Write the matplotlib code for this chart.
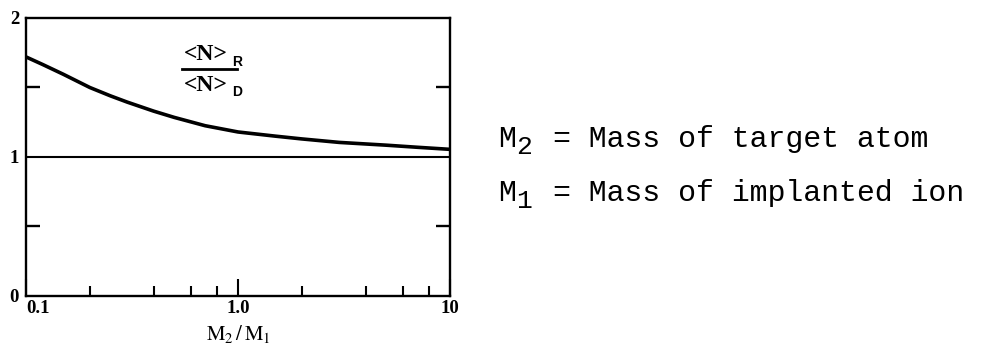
import numpy as np
import matplotlib
matplotlib.use("Agg")
import matplotlib.pyplot as plt

# mass ratio M2/M1 and range ratio <N>_R / <N>_D
mass_ratio = [0.1, 0.12, 0.15, 0.2, 0.25, 0.3, 0.4, 0.5, 0.7, 1.0,
              1.5, 2.0, 3.0, 5.0, 7.0, 10.0]
range_ratio = [1.72, 1.665, 1.595, 1.50, 1.44, 1.395, 1.33, 1.285, 1.225, 1.18,
               1.15, 1.13, 1.105, 1.085, 1.07, 1.055]
reference_level = 1.0

xtick_vals = [0.1, 1.0, 10]
xtick_labels = ["0.1", "1.0", "10"]
xminor_vals = [0.2, 0.4, 0.6, 0.8, 2, 4, 6, 8]
ytick_vals = [0, 1, 2]
ytick_labels = ["0", "1", "2"]
yminor_vals = [0.5, 1.5]

legend_lines = [("M", "2", "= Mass of target atom"),
                ("M", "1", "= Mass of implanted ion")]

serif = "Liberation Serif"
mono = "Liberation Mono"
plt.rcParams["mathtext.fontset"] = "stix"

fig = plt.figure(figsize=(9.81, 3.5), dpi=100)
ax = fig.add_axes([0.0265, 0.1543, 0.4322, 0.7943])

ax.plot(mass_ratio, range_ratio, color="black", lw=2.6, solid_joinstyle="round")
ax.axhline(reference_level, color="black", lw=1.5)

ax.set_xscale("log")
ax.set_xlim(0.1, 10)
ax.set_ylim(0, 2)

for s in ax.spines.values():
    s.set_linewidth(1.7)

ax.set_xticks(xtick_vals)
ax.set_xticklabels(xtick_labels, fontfamily=serif, fontweight="bold", fontsize=13.5)
ax.set_xticks(xminor_vals, minor=True)
ax.xaxis.set_minor_formatter(plt.NullFormatter())
ax.tick_params(axis="x", which="major", direction="in", length=12, width=1.5, pad=3)
ax.tick_params(axis="x", which="minor", direction="in", length=7, width=1.5)
ax.get_xticklabels()[0].set_horizontalalignment("left")

ax.set_yticks(ytick_vals)
ax.set_yticklabels(ytick_labels, fontfamily=serif, fontweight="bold", fontsize=13.5)
ax.set_yticks(yminor_vals, minor=True)
ax.yaxis.set_minor_formatter(plt.NullFormatter())
ax.tick_params(axis="y", which="major", length=0, pad=5)
ax.tick_params(axis="y", which="minor", direction="in", length=10, width=1.7,
               left=True, right=True)

ax.set_xlabel(r"$\mathrm{M_2\,/\,M_1}$", fontsize=15, labelpad=4)

# ratio label inside the plot
for yc, sub, ys in [(0.867, "R", 0.842), (0.757, "D", 0.735)]:
    ax.text(0.425, yc, "<N>", transform=ax.transAxes, ha="center", va="center",
            fontfamily=serif, fontweight="bold", fontsize=17)
    ax.text(0.497, ys, sub, transform=ax.transAxes, ha="center", va="center",
            fontfamily="Liberation Sans", fontweight="bold", fontsize=10)
ax.plot([0.368, 0.498], [0.817, 0.817], transform=ax.transAxes, color="black",
        lw=2.0, clip_on=False)

# definitions to the right of the plot
rows_y = [147, 201]
for (sym, sub, rest), y in zip(legend_lines, rows_y):
    yb = 1 - y / 350
    fig.text(498 / 981, yb, sym, fontfamily=mono, fontsize=21.5, va="baseline")
    fig.text(516 / 981, yb - 7 / 350, sub, fontfamily=mono, fontsize=19, va="baseline")
    fig.text(553 / 981, yb, rest, fontfamily=mono, fontsize=21.5, va="baseline")

fig.savefig("out.png", dpi=100)
